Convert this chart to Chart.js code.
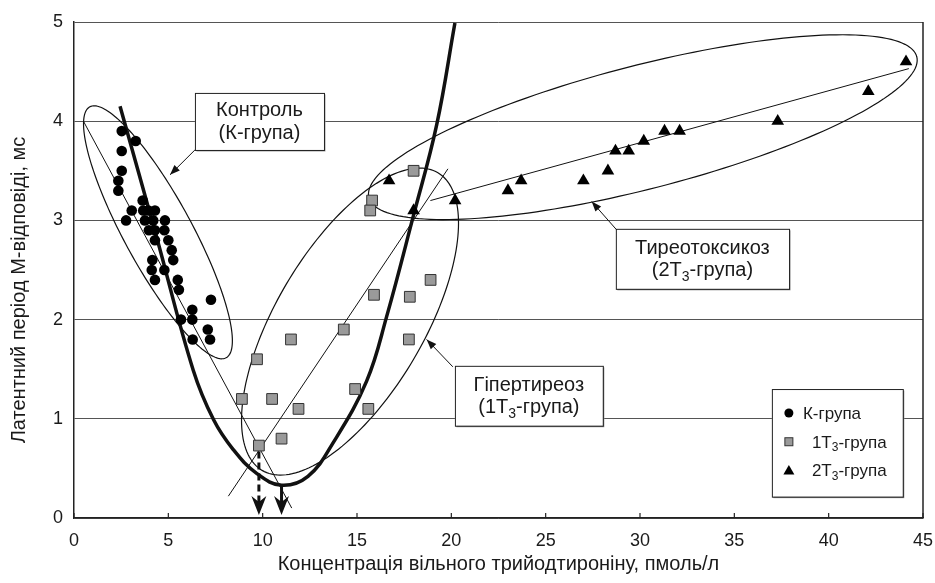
<!DOCTYPE html>
<html>
<head>
<meta charset="utf-8">
<script src="https://cdn.jsdelivr.net/npm/chart.js@4.4.1/dist/chart.umd.min.js"></script>
<style>
  html, body { margin: 0; padding: 0; background: #fff; }
  canvas { display: block; }
</style>
</head>
<body>
<canvas id="chart" width="935" height="583"></canvas>
<script>
// К-група (контроль)
const kX = [2.53, 3.27, 2.53, 2.53, 2.35, 2.35, 3.64, 3.06, 3.67, 3.94, 4.29, 2.76, 3.76, 4.2, 4.82,
            3.97, 4.29, 4.79, 4.29, 5.0, 5.18, 4.15, 5.26, 4.12, 4.79, 4.29, 5.5, 5.56, 7.26, 6.27,
            5.67, 6.27, 7.09, 6.29, 7.21];
const kY = [3.9, 3.8, 3.7, 3.5, 3.4, 3.3, 3.2, 3.1, 3.1, 3.1, 3.1, 3.0, 3.0, 3.0, 3.0,
            2.9, 2.9, 2.9, 2.8, 2.8, 2.7, 2.6, 2.6, 2.5, 2.5, 2.4, 2.4, 2.3, 2.2, 2.1,
            2.0, 2.0, 1.9, 1.8, 1.8];

// 1T3-група (гіпертиреоз)
const t1X = [18.0, 15.8, 15.7, 18.9, 15.9, 17.8, 14.3, 11.5, 17.75, 9.7, 8.9, 10.5, 14.9, 11.9, 15.6, 11.0, 9.8];
const t1Y = [3.5, 3.2, 3.1, 2.4, 2.25, 2.23, 1.9, 1.8, 1.8, 1.6, 1.2, 1.2, 1.3, 1.1, 1.1, 0.8, 0.73];

// 2T3-група (тиреотоксикоз)
const t2X = [16.7, 18.0, 20.2, 23.0, 23.7, 27.0, 28.3, 28.7, 29.4, 30.2, 31.3, 32.1, 37.3, 42.1, 44.1];
const t2Y = [3.4, 3.1, 3.2, 3.3, 3.4, 3.4, 3.5, 3.7, 3.7, 3.8, 3.9, 3.9, 4.0, 4.3, 4.6];

// загальна крива (жирна)
const curveX = [2.44, 4.38, 6.32, 7.4, 8.44, 9.68, 11.0, 12.4, 13.74, 15.51, 16.57, 17.98, 19.22, 20.19];
const curveY = [4.15, 2.83, 1.49, 0.99, 0.69, 0.45, 0.33, 0.42, 0.76, 1.38, 2.03, 3.04, 3.96, 4.99];

// лінії регресії
const kLineX = [0.5, 11.54],  kLineY = [4.0, 0.1];
const t1LineX = [8.18, 19.82], t1LineY = [0.22, 3.52];
const t2LineX = [18.89, 44.25], t2LineY = [3.2, 4.53];

// еліпси: центр, кінець великої осі, кінець малої осі
const ellK  = [4.45, 2.88, 8.06, 1.615, 6.04, 3.04];
const ellT1 = [14.63, 1.98, 19.29, 3.48, 18.0, 1.6];
const ellT2 = [30.15, 3.94, 44.67, 4.65, 30.96, 3.337];

const xTicks = [0, 5, 10, 15, 20, 25, 30, 35, 40, 45];
const yTicks = [0, 1, 2, 3, 4, 5];

const groupNames = ['К-група', '1T_3-група', '2T_3-група'];
const notes = [
  { lines: ['Контроль', '(К-група)'], box: [6.41, 4.285, 13.25, 3.71], from: [6.41, 3.71], to: [5.09, 3.46] },
  { lines: ['Гіпертиреоз', '(1T_3-група)'], box: [20.19, 1.534, 28.03, 0.93], from: [20.08, 1.524], to: [18.69, 1.8] },
  { lines: ['Тиреотоксикоз', '(2T_3-група)'], box: [28.72, 2.915, 37.9, 2.31], from: [28.76, 2.905], to: [27.44, 3.19] }
];
const legendBox = [36.99, 1.3, 43.93, 0.215];

const FONT = '"Liberation Sans", Arial, Helvetica, sans-serif';

function toPts(xs, ys) {
  return xs.map((x, i) => ({ x: x, y: ys[i] }));
}

// text with "_3" style subscripts
function drawRich(ctx, text, x, y, size, align) {
  const parts = text.split(/_(\d)/);
  const subSize = Math.round(size * 0.7);
  let total = 0;
  parts.forEach((p, i) => {
    ctx.font = (i % 2 ? subSize : size) + 'px ' + FONT;
    total += ctx.measureText(p).width;
  });
  let cx = align === 'center' ? x - total / 2 : x;
  ctx.textAlign = 'left';
  ctx.textBaseline = 'alphabetic';
  parts.forEach((p, i) => {
    const sub = i % 2 === 1;
    ctx.font = (sub ? subSize : size) + 'px ' + FONT;
    ctx.fillText(p, cx, sub ? y + size * 0.22 : y);
    cx += ctx.measureText(p).width;
  });
}

function arrowHead(ctx, x1, y1, x2, y2, len, half) {
  const a = Math.atan2(y2 - y1, x2 - x1);
  ctx.beginPath();
  ctx.moveTo(x2, y2);
  ctx.lineTo(x2 - len * Math.cos(a) + half * Math.sin(a), y2 - len * Math.sin(a) - half * Math.cos(a));
  ctx.lineTo(x2 - len * Math.cos(a) - half * Math.sin(a), y2 - len * Math.sin(a) + half * Math.cos(a));
  ctx.closePath();
  ctx.fill();
}

const overlay = {
  id: 'overlay',
  beforeDatasetsDraw(chart) {
    const ctx = chart.ctx, sx = chart.scales.x, sy = chart.scales.y;
    const P = (x, y) => [sx.getPixelForValue(x), sy.getPixelForValue(y)];
    ctx.save();
    ctx.strokeStyle = '#111';
    ctx.lineWidth = 1.2;
    [ellK, ellT1, ellT2].forEach(e => {
      const c = P(e[0], e[1]), m = P(e[2], e[3]), n = P(e[4], e[5]);
      ctx.beginPath();
      for (let i = 0; i <= 180; i++) {
        const t = i / 180 * Math.PI * 2;
        const x = c[0] + Math.cos(t) * (m[0] - c[0]) + Math.sin(t) * (n[0] - c[0]);
        const y = c[1] + Math.cos(t) * (m[1] - c[1]) + Math.sin(t) * (n[1] - c[1]);
        if (i === 0) ctx.moveTo(x, y); else ctx.lineTo(x, y);
      }
      ctx.stroke();
    });
    ctx.restore();
  },
  afterDatasetsDraw(chart) {
    const ctx = chart.ctx, sx = chart.scales.x, sy = chart.scales.y, area = chart.chartArea;
    const P = (x, y) => [sx.getPixelForValue(x), sy.getPixelForValue(y)];
    ctx.save();

    // thick arrows down to the x axis
    ctx.strokeStyle = '#111';
    ctx.fillStyle = '#111';
    ctx.lineWidth = 3;
    const base = area.bottom - 3;
    [[t1X[16], t1Y[16], true], [curveX[6], curveY[6], false]].forEach(a => {
      const p = P(a[0], a[1]);
      const y0 = a[2] ? p[1] + 6 : p[1] + 1;
      ctx.setLineDash(a[2] ? [7, 4] : []);
      ctx.beginPath();
      ctx.moveTo(p[0], y0);
      ctx.lineTo(p[0], base - 10);
      ctx.stroke();
      ctx.setLineDash([]);
      ctx.beginPath();
      ctx.moveTo(p[0], base);
      ctx.lineTo(p[0] - 7.5, base - 19);
      ctx.lineTo(p[0], base - 13);
      ctx.lineTo(p[0] + 7.5, base - 19);
      ctx.closePath();
      ctx.fill();
    });

    // annotation boxes with arrows
    ctx.lineWidth = 1;
    notes.forEach(n => {
      const a = P(n.box[0], n.box[1]), b = P(n.box[2], n.box[3]);
      const w = b[0] - a[0], h = b[1] - a[1];
      ctx.fillStyle = '#9a9a9a';
      ctx.fillRect(a[0] + 1.5, a[1] + 1.5, w, h);
      ctx.fillStyle = '#fff';
      ctx.fillRect(a[0], a[1], w, h);
      ctx.strokeStyle = '#222';
      ctx.strokeRect(a[0] + 0.5, a[1] + 0.5, w, h);
      ctx.fillStyle = '#1a1a1a';
      const cx = a[0] + w / 2, cy = a[1] + h / 2;
      drawRich(ctx, n.lines[0], cx, cy - 5, 20, 'center');
      drawRich(ctx, n.lines[1], cx, cy + 17.5, 20, 'center');
      const f = P(n.from[0], n.from[1]), t = P(n.to[0], n.to[1]);
      ctx.strokeStyle = '#111';
      ctx.beginPath();
      ctx.moveTo(f[0], f[1]);
      ctx.lineTo(t[0], t[1]);
      ctx.stroke();
      ctx.fillStyle = '#111';
      arrowHead(ctx, f[0], f[1], t[0], t[1], 10, 3.8);
    });

    // legend
    const la = P(legendBox[0], legendBox[1]), lb = P(legendBox[2], legendBox[3]);
    const lw = lb[0] - la[0], lh = lb[1] - la[1];
    ctx.fillStyle = '#9a9a9a';
    ctx.fillRect(la[0] + 1.5, la[1] + 1.5, lw, lh);
    ctx.fillStyle = '#fff';
    ctx.fillRect(la[0], la[1], lw, lh);
    ctx.strokeStyle = '#222';
    ctx.strokeRect(la[0] + 0.5, la[1] + 0.5, lw, lh);
    groupNames.forEach((name, i) => {
      const mx = la[0] + 17, my = la[1] + 24 + i * 28.7;
      ctx.fillStyle = '#000';
      ctx.strokeStyle = '#333';
      if (i === 0) {
        ctx.beginPath(); ctx.arc(mx, my, 4.5, 0, Math.PI * 2); ctx.fill();
      } else if (i === 1) {
        ctx.fillStyle = '#9a9a9a';
        ctx.fillRect(mx - 4, my - 4, 8, 8);
        ctx.strokeRect(mx - 4, my - 4, 8, 8);
      } else {
        ctx.beginPath(); ctx.moveTo(mx, my - 5.5); ctx.lineTo(mx + 5.5, my + 4); ctx.lineTo(mx - 5.5, my + 4); ctx.closePath(); ctx.fill();
      }
      ctx.fillStyle = '#1a1a1a';
      drawRich(ctx, name, la[0] + (i === 0 ? 31 : 40), my + 6, 17, 'left');
    });

    // frame and inward ticks
    ctx.strokeStyle = '#222';
    ctx.lineWidth = 1.5;
    ctx.beginPath();
    ctx.moveTo(area.right, area.top);
    ctx.lineTo(area.right, area.bottom);
    ctx.stroke();
    ctx.lineWidth = 1.2;
    xTicks.forEach(v => {
      const x = sx.getPixelForValue(v);
      ctx.beginPath();
      ctx.moveTo(x, area.bottom);
      ctx.lineTo(x, area.bottom - 5);
      ctx.stroke();
    });

    // y axis title
    ctx.translate(19, 290);
    ctx.rotate(-Math.PI / 2);
    ctx.fillStyle = '#1a1a1a';
    ctx.font = '20px ' + FONT;
    ctx.textAlign = 'center';
    ctx.textBaseline = 'middle';
    ctx.fillText('Латентний період М-відповіді, мс', 0, 0);
    ctx.restore();
  }
};

function lineSet(xs, ys, width) {
  return {
    data: toPts(xs, ys), showLine: true, pointRadius: 0,
    borderColor: '#111', borderWidth: width, order: 2
  };
}

new Chart(document.getElementById('chart'), {
  type: 'scatter',
  data: {
    datasets: [
      { label: groupNames[0], data: toPts(kX, kY), pointStyle: 'circle', pointRadius: 5.3,
        backgroundColor: '#000', borderColor: '#000', borderWidth: 0, order: 1 },
      { label: groupNames[1], data: toPts(t1X, t1Y), pointStyle: 'rect', pointRadius: 7.6,
        backgroundColor: '#9a9a9a', borderColor: '#333', borderWidth: 1, order: 1 },
      { label: groupNames[2], data: toPts(t2X, t2Y), pointStyle: 'triangle', pointRadius: 7.3,
        backgroundColor: '#000', borderColor: '#000', borderWidth: 0, order: 1 },
      Object.assign(lineSet(curveX, curveY, 3.5), { tension: 0.4 }),
      lineSet(kLineX, kLineY, 1),
      lineSet(t1LineX, t1LineY, 1),
      lineSet(t2LineX, t2LineY, 1)
    ]
  },
  options: {
    responsive: false,
    devicePixelRatio: 1,
    animation: false,
    events: [],
    layout: { padding: { left: 0, right: 12, top: 22, bottom: 0 } },
    plugins: { legend: { display: false }, tooltip: { enabled: false } },
    scales: {
      x: {
        type: 'linear', min: 0, max: 45,
        afterBuildTicks: s => { s.ticks = xTicks.map(v => ({ value: v })); },
        afterFit: s => { s.height = 65; s.paddingLeft = 0; s.paddingRight = 0; },
        grid: { drawOnChartArea: false, drawTicks: false },
        border: { color: '#222', width: 1.5 },
        ticks: { color: '#1a1a1a', padding: 12, font: { family: FONT, size: 18 } },
        title: { display: true, text: 'Концентрація вільного трийодтироніну, пмоль/л',
                 color: '#1a1a1a', font: { family: FONT, size: 20 }, padding: { top: 0, bottom: 7 } }
      },
      y: {
        type: 'linear', min: 0, max: 5,
        afterBuildTicks: s => { s.ticks = yTicks.map(v => ({ value: v })); },
        afterFit: s => { s.width = 74; s.paddingTop = 0; s.paddingBottom = 0; },
        grid: { color: '#555', lineWidth: 1, drawTicks: false },
        border: { color: '#222', width: 1.5 },
        ticks: { color: '#1a1a1a', padding: 11, font: { family: FONT, size: 18 } }
      }
    }
  },
  plugins: [overlay]
});
</script>
</body>
</html>
